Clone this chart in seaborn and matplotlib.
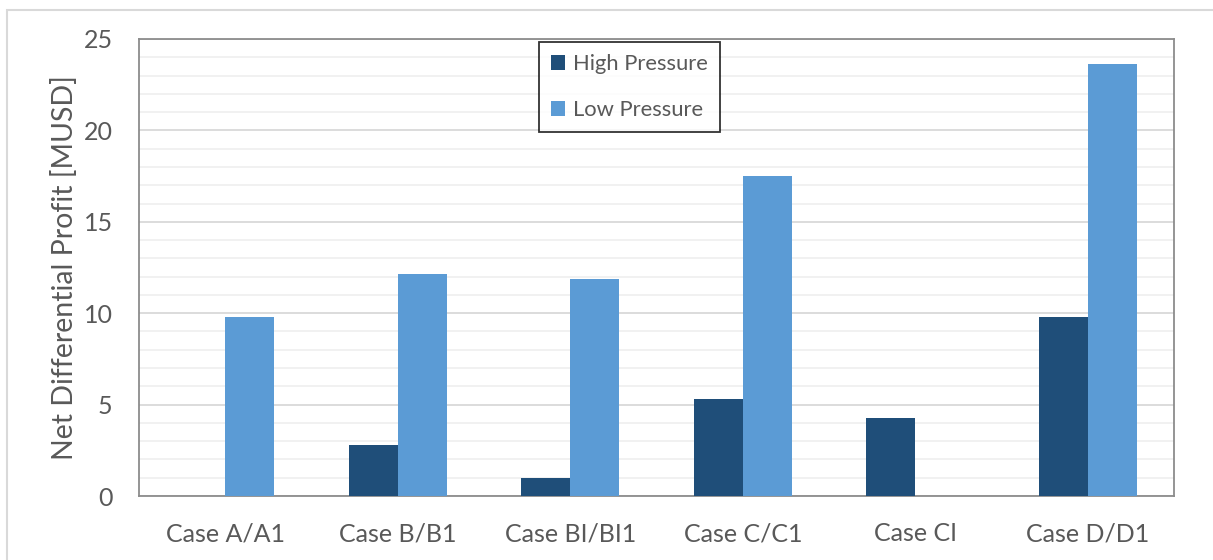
import matplotlib
matplotlib.use("Agg")
import matplotlib.pyplot as plt
import seaborn as sns
import pandas as pd
from matplotlib.patches import Rectangle
from matplotlib.ticker import MultipleLocator

cases = ["Case A/A1", "Case B/B1", "Case BI/BI1", "Case C/C1", "Case CI", "Case D/D1"]
high_pressure = [0.0, 2.8, 1.0, 5.3, 4.25, 9.8]
low_pressure = [9.8, 12.15, 11.85, 17.5, 0.0, 23.65]
series = ["High Pressure", "Low Pressure"]
colors = ["#1F4E79", "#5B9BD5"]

df = pd.DataFrame({
    "case": cases * 2,
    "series": [series[0]] * len(cases) + [series[1]] * len(cases),
    "value": high_pressure + low_pressure,
})

sns.set_theme(style="white")
plt.rcParams["font.family"] = ["Lato", "DejaVu Sans"]
text_color = "#595959"

fig = plt.figure(figsize=(12.13, 5.6), dpi=100)
ax = fig.add_axes([139 / 1213, 1 - 496 / 560, (1174 - 139) / 1213, (496 - 39) / 560])

sns.barplot(data=df, x="case", y="value", hue="series", palette=colors,
            width=0.57, saturation=1, ax=ax, errorbar=None, zorder=3, linewidth=0)

ax.set_ylim(0, 25)
ax.yaxis.set_major_locator(MultipleLocator(5))
ax.yaxis.set_minor_locator(MultipleLocator(1))
ax.grid(which="major", axis="y", color="#D9D9D9", linewidth=1.3, zorder=0)
ax.grid(which="minor", axis="y", color="#F0F0F0", linewidth=1.3, zorder=0)
ax.set_axisbelow(True)

for side in ["left", "bottom", "top", "right"]:
    ax.spines[side].set_visible(True)
    ax.spines[side].set_color("#8C8C8C")
    ax.spines[side].set_linewidth(1.3)

ax.tick_params(axis="both", which="both", length=0, labelsize=18, colors=text_color)
ax.tick_params(axis="y", pad=19)
ax.tick_params(axis="x", pad=19)
ax.set_xlabel("")
ax.set_ylabel("Net Differential Profit [MUSD]", fontsize=20.5, color=text_color, labelpad=4)

leg = ax.legend(loc="upper left", bbox_to_anchor=((539 - 139) / 1035, 1 - (42 - 39) / 457),
                frameon=True, fancybox=False, fontsize=15.8, labelcolor=text_color,
                handlelength=0.65, handleheight=0.65, handletextpad=0.35,
                labelspacing=1.2, borderpad=0.55, borderaxespad=0)
leg.get_frame().set_edgecolor("black")
leg.get_frame().set_linewidth(1.3)
leg.set_zorder(5)

fig.patches.append(Rectangle((7 / 1213, -0.01), 1.1, 1 - 10 / 560 + 0.01,
                             transform=fig.transFigure, fill=False,
                             edgecolor="#D9D9D9", linewidth=1.5))

fig.savefig("out.png", dpi=100)
